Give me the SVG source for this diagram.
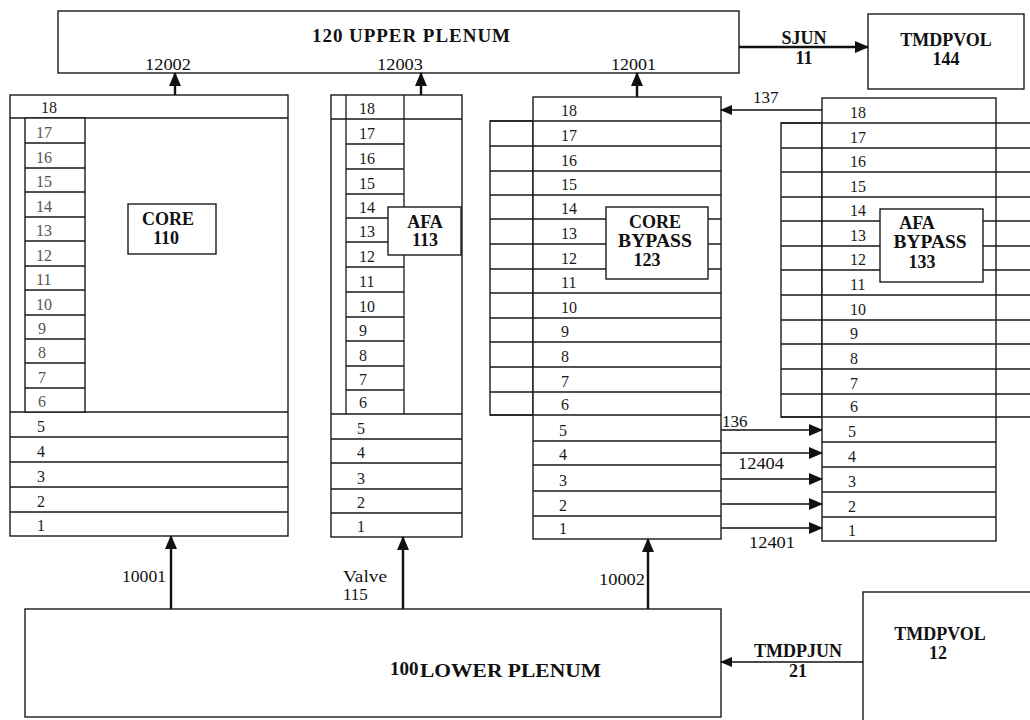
<svg xmlns="http://www.w3.org/2000/svg" width="1030" height="720" viewBox="0 0 1030 720">
<style>
.box{fill:#fff;stroke:#1a1a1a;stroke-width:1.4}
.ln{stroke:#1a1a1a;stroke-width:1.3;fill:none}
.lbl{fill:#fff;stroke:#1a1a1a;stroke-width:1.4}
.row{font-family:"Liberation Serif",serif;font-size:16px;fill:#1a1a1a}
.fade{fill:#555}
.t{font-family:"Liberation Serif",serif;font-weight:bold;font-size:18px;fill:#111;text-anchor:middle}
.big{font-family:"Liberation Serif",serif;font-weight:bold;font-size:19px;fill:#111}
.num{font-family:"Liberation Serif",serif;font-size:17px;fill:#111}
.arr{stroke:#111;stroke-width:2.4;fill:none}
.arr2{stroke:#111;stroke-width:1.6;fill:none}
</style>
<defs>
<marker id="ah" markerUnits="userSpaceOnUse" markerWidth="14" markerHeight="12" refX="13" refY="6" orient="auto"><path d="M0,0 L14,6 L0,12 z" fill="#111"/></marker>
<marker id="ahs" markerUnits="userSpaceOnUse" markerWidth="12" markerHeight="10" refX="11" refY="5" orient="auto"><path d="M0,0 L12,5 L0,10 z" fill="#111"/></marker>
</defs>
<rect width="1030" height="720" fill="#fff"/>

<g id="upper-plenum-120">
<rect class="box" x="58" y="11" width="681" height="62"/>
<text class="big" x="312" y="42" textLength="198" lengthAdjust="spacing">120 UPPER PLENUM</text>
</g>

<g id="tmdpvol-144">
<rect class="box" x="868" y="14" width="156" height="75"/>
<text class="t" x="946" y="46" font-size="19">TMDPVOL</text>
<text class="t" x="946" y="65" font-size="19">144</text>
</g>

<g id="core-110">
<rect class="box" x="10" y="95" width="278" height="441"/>
<path class="ln" d="M10,118H288M10,412H288M10,437H288M10,462H288M10,487H288M10,512H288"/>
<rect class="box" x="25" y="118" width="60" height="294"/>
<path class="ln" d="M25,143H85M25,168H85M25,192H85M25,217H85M25,241H85M25,266H85M25,290H85M25,315H85M25,339H85M25,363H85M25,388H85"/>
<rect class="lbl" x="128" y="204" width="88" height="50"/>
<text class="t" x="168" y="225">CORE</text>
<text class="t" x="166" y="244">110</text>
<text class="row" x="41" y="113">18</text>
<g class="row fade">
<text x="36" y="138">17</text><text x="36" y="163">16</text><text x="36" y="187">15</text><text x="36" y="212">14</text>
<text x="36" y="236">13</text><text x="36" y="261">12</text><text x="36" y="285">11</text><text x="36" y="310">10</text>
<text x="38" y="334">9</text><text x="38" y="358">8</text><text x="38" y="383">7</text><text x="38" y="407">6</text>
</g>
<text class="row" x="37" y="432">5</text><text class="row" x="37" y="457">4</text><text class="row" x="37" y="482">3</text><text class="row" x="37" y="507">2</text><text class="row" x="37" y="531">1</text>
</g>

<g id="afa-113">
<rect class="box" x="331" y="95" width="131" height="442"/>
<path class="ln" d="M331,119H462M346,95V414M404,95V414M331,414H462M331,439H462M331,463H462M331,489H462M331,513H462"/>
<path class="ln" d="M346,144H404M346,169H404M346,194H404M346,218H404M346,242H404M346,267H404M346,292H404M346,317H404M346,341H404M346,366H404M346,390H404"/>
<rect class="lbl" x="388" y="207" width="73" height="48"/>
<text class="t" x="425" y="228">AFA</text>
<text class="t" x="425" y="246">113</text>
<g class="row">
<text x="359" y="114">18</text><text x="359" y="139">17</text><text x="359" y="164">16</text><text x="359" y="189">15</text>
<text x="359" y="213">14</text><text x="359" y="237">13</text><text x="359" y="262">12</text><text x="359" y="287">11</text>
<text x="359" y="312">10</text><text x="359" y="336">9</text><text x="359" y="361">8</text><text x="359" y="385">7</text>
<text x="359" y="408">6</text><text x="357" y="434">5</text><text x="357" y="458">4</text><text x="357" y="484">3</text>
<text x="357" y="508">2</text><text x="357" y="532">1</text>
</g>
</g>

<g id="core-bypass-123">
<rect class="box" x="490" y="121" width="43" height="294"/>
<rect class="box" x="533" y="97" width="188" height="442"/>
<path class="ln" d="M490,121H721M490,146H721M490,171H721M490,195H721M490,219H721M490,244H721M490,269H721M490,293H721M490,318H721M490,342H721M490,367H721M490,392H721M490,415H721M533,441H721M533,465H721M533,491H721M533,516H721"/>
<rect class="lbl" x="606" y="207" width="102" height="72"/>
<text class="t" x="655" y="228">CORE</text>
<text class="t" x="655" y="247" textLength="74" lengthAdjust="spacingAndGlyphs">BYPASS</text>
<text class="t" x="647" y="266">123</text>
<g class="row">
<text x="561" y="116">18</text><text x="561" y="141">17</text><text x="561" y="166">16</text><text x="561" y="190">15</text>
<text x="561" y="214">14</text><text x="561" y="239">13</text><text x="561" y="264">12</text><text x="561" y="288">11</text>
<text x="561" y="313">10</text><text x="561" y="337">9</text><text x="561" y="362">8</text><text x="561" y="387">7</text>
<text x="561" y="410">6</text><text x="559" y="436">5</text><text x="559" y="460">4</text><text x="559" y="486">3</text>
<text x="559" y="511">2</text><text x="559" y="534">1</text>
</g>
</g>

<g id="afa-bypass-133">
<rect class="box" x="781" y="123" width="41" height="294"/>
<rect class="box" x="822" y="98" width="174" height="443"/>
<path class="ln" d="M781,123H1030M781,148H1030M781,172H1030M781,197H1030M781,221H1030M781,246H1030M781,270H1030M781,295H1030M781,320H1030M781,344H1030M781,369H1030M781,394H1030M781,417H1030M822,442H996M822,467H996M822,492H996M822,517H996"/>
<rect class="lbl" x="880" y="209" width="103" height="73"/>
<text class="t" x="917" y="229">AFA</text>
<text class="t" x="930" y="248" textLength="73" lengthAdjust="spacingAndGlyphs">BYPASS</text>
<text class="t" x="922" y="268">133</text>
<g class="row">
<text x="850" y="118">18</text><text x="850" y="143">17</text><text x="850" y="167">16</text><text x="850" y="192">15</text>
<text x="850" y="216">14</text><text x="850" y="241">13</text><text x="850" y="265">12</text><text x="850" y="290">11</text>
<text x="850" y="315">10</text><text x="850" y="339">9</text><text x="850" y="364">8</text><text x="850" y="389">7</text>
<text x="850" y="412">6</text><text x="848" y="437">5</text><text x="848" y="462">4</text><text x="848" y="487">3</text>
<text x="848" y="512">2</text><text x="848" y="536">1</text>
</g>
</g>

<g id="lower-plenum-100">
<rect class="box" x="25" y="609" width="696" height="108"/>
<text class="big" x="390" y="675" font-size="15">100</text>
<text class="big" x="420" y="677" textLength="181" lengthAdjust="spacingAndGlyphs">LOWER PLENUM</text>
</g>

<g id="tmdpvol-12">
<rect class="box" x="863" y="592" width="180" height="140"/>
<text class="t" x="940" y="640" font-size="19">TMDPVOL</text>
<text class="t" x="938" y="659" font-size="19">12</text>
</g>

<g id="connectors">
<line class="arr" x1="175" y1="95" x2="175" y2="73" marker-end="url(#ah)"/>
<line class="arr" x1="421" y1="95" x2="421" y2="73" marker-end="url(#ah)"/>
<line class="arr" x1="637" y1="97" x2="637" y2="73" marker-end="url(#ah)"/>
<line class="arr" x1="739" y1="47" x2="868" y2="47" marker-end="url(#ah)"/>
<line class="arr2" x1="822" y1="110" x2="721" y2="110" marker-end="url(#ahs)"/>
<line class="arr2" x1="721" y1="430" x2="822" y2="430" marker-end="url(#ah)"/>
<line class="arr2" x1="721" y1="453" x2="822" y2="453" marker-end="url(#ah)"/>
<line class="arr2" x1="721" y1="479" x2="822" y2="479" marker-end="url(#ah)"/>
<line class="arr2" x1="721" y1="504" x2="822" y2="504" marker-end="url(#ah)"/>
<line class="arr2" x1="721" y1="528" x2="822" y2="528" marker-end="url(#ah)"/>
<line class="arr" x1="171" y1="609" x2="171" y2="536" marker-end="url(#ah)"/>
<line class="arr" x1="403" y1="609" x2="403" y2="537" marker-end="url(#ah)"/>
<line class="arr" x1="648" y1="609" x2="648" y2="539" marker-end="url(#ah)"/>
<line class="arr2" x1="863" y1="662" x2="721" y2="662" marker-end="url(#ahs)"/>
<text class="num" x="145" y="70" textLength="46" lengthAdjust="spacingAndGlyphs">12002</text>
<text class="num" x="377" y="70" textLength="46" lengthAdjust="spacingAndGlyphs">12003</text>
<text class="num" x="611" y="70" textLength="45" lengthAdjust="spacingAndGlyphs">12001</text>
<text class="t" x="804" y="44" font-size="19">SJUN</text>
<text class="t" x="804" y="64" font-size="19">11</text>
<text class="num" x="753" y="103">137</text>
<text class="num" x="722" y="427">136</text>
<text class="num" x="738" y="469" textLength="46" lengthAdjust="spacingAndGlyphs">12404</text>
<text class="num" x="749" y="548" textLength="46" lengthAdjust="spacingAndGlyphs">12401</text>
<text class="num" x="122" y="582" textLength="44" lengthAdjust="spacingAndGlyphs">10001</text>
<text class="num" x="343" y="582" textLength="44" lengthAdjust="spacingAndGlyphs">Valve</text>
<text class="num" x="343" y="600">115</text>
<text class="num" x="599" y="585" textLength="46" lengthAdjust="spacingAndGlyphs">10002</text>
<text class="t" x="798" y="657" font-size="19">TMDPJUN</text>
<text class="t" x="798" y="677" font-size="19">21</text>
</g>
</svg>
